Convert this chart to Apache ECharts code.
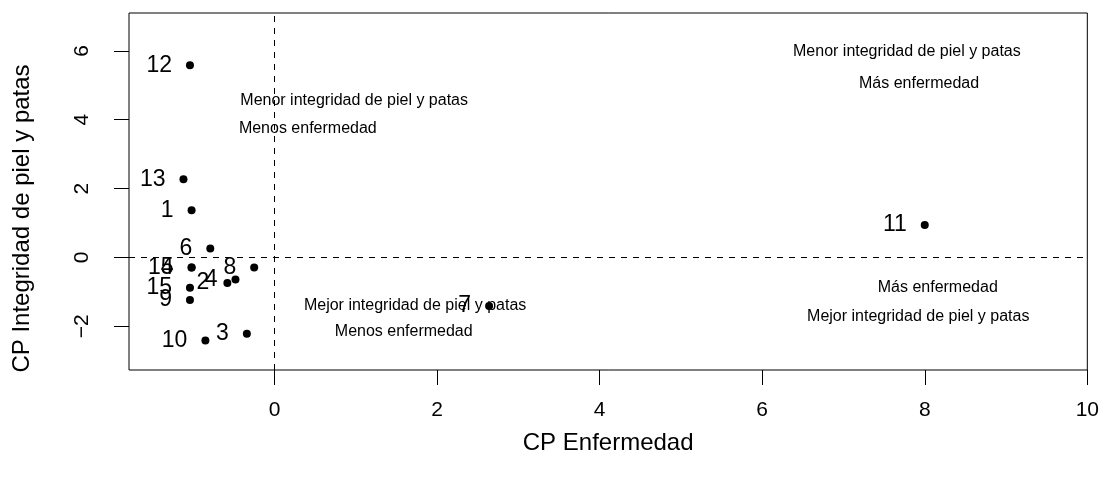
<!DOCTYPE html>
<html>
<head>
<meta charset="utf-8">
<script src="https://cdn.jsdelivr.net/npm/echarts@6/dist/echarts.min.js"></script>
<style>
  html, body { margin: 0; padding: 0; background: #fff; }
  #chart { width: 1102px; height: 482px; }
</style>
</head>
<body>
<div id="chart"></div>
<script>
// granjas y sus puntajes en los dos componentes principales
const granjas = ['1', '2', '3', '4', '5', '6', '7', '8', '9', '10', '11', '12', '13', '14', '15'];
const cpEnfermedad = [-1.02, -0.58, -0.34, -0.48, -1.02, -0.79, 2.64, -0.25, -1.04, -0.85, 8.0, -1.04, -1.12, -1.02, -1.04];
const cpIntegridad = [1.37, -0.74, -2.22, -0.64, -0.29, 0.26, -1.41, -0.29, -1.24, -2.41, 0.94, 5.58, 2.27, -0.29, -0.88];

// textos de los cuadrantes
const notas = [
    'Menor integridad de piel y patas', 'Menos enfermedad',
    'Mejor integridad de piel y patas', 'Menos enfermedad',
    'Menor integridad de piel y patas', 'Más enfermedad',
    'Más enfermedad', 'Mejor integridad de piel y patas'
];
const notasX = [0.98, 0.41, 1.73, 1.59, 7.78, 7.93, 8.16, 7.92];
const notasY = [4.55, 3.75, -1.41, -2.16, 5.97, 5.05, -0.87, -1.73];

const ticksX = [0, 2, 4, 6, 8, 10];
const ticksY = [-2, 0, 2, 4, 6];

const FONT = 'Liberation Sans, Arial, Helvetica, sans-serif';

const chart = echarts.init(document.getElementById('chart'));

const option = {
    animation: false,
    backgroundColor: '#fff',
    textStyle: { fontFamily: FONT, color: '#000' },
    grid: {
        left: 129, right: 14, top: 13, bottom: 112,
        show: true, borderColor: '#000', borderWidth: 1, backgroundColor: 'transparent'
    },
    xAxis: {
        type: 'value', min: -1.79, max: 10.0,
        name: 'CP Enfermedad', nameLocation: 'middle', nameGap: 61,
        nameTextStyle: { fontSize: 24, color: '#000', fontFamily: FONT },
        axisLine: { show: false, onZero: false },
        splitLine: { show: false },
        axisTick: { show: true, length: 15, customValues: ticksX, lineStyle: { color: '#000', width: 1 } },
        axisLabel: { customValues: ticksX, fontSize: 21, color: '#000', margin: 30, fontFamily: FONT }
    },
    yAxis: {
        type: 'value', min: -3.27, max: 7.10,
        name: 'CP Integridad de piel y patas', nameLocation: 'middle', nameGap: 95,
        nameTextStyle: { fontSize: 24, color: '#000', fontFamily: FONT, padding: [0, 54, 0, 0] },
        axisLine: { show: false, onZero: false },
        splitLine: { show: false },
        axisTick: { show: true, length: 15, customValues: ticksY, lineStyle: { color: '#000', width: 1 } },
        axisLabel: { customValues: ticksY, fontSize: 21, color: '#000', margin: 36, rotate: 90, fontFamily: FONT,
            formatter: v => String(v).replace('-', '\u2212') }
    },
    series: [
        {
            name: 'granjas', type: 'scatter', symbol: 'circle', symbolSize: 8,
            itemStyle: { color: '#000', opacity: 1 },
            data: granjas.map((g, i) => [cpEnfermedad[i], cpIntegridad[i], g]),
            label: {
                show: true, position: 'left', distance: 14,
                formatter: p => p.data[2], fontSize: 23, color: '#000', fontFamily: FONT
            },
            markLine: {
                silent: true, symbol: 'none', animation: false,
                label: { show: false },
                lineStyle: { color: '#000', width: 1, opacity: 1, type: [6, 6] },
                data: [{ xAxis: 0 }, { yAxis: 0 }]
            },
            z: 3
        },
        {
            name: 'notas', type: 'scatter', symbolSize: 0, silent: true,
            itemStyle: { opacity: 1 },
            data: notas.map((t, i) => [notasX[i], notasY[i], t]),
            label: {
                show: true, position: 'inside',
                formatter: p => p.data[2], fontSize: 16, color: '#000', fontFamily: FONT
            },
            z: 2
        }
    ]
};

chart.setOption(option);
</script>
</body>
</html>
